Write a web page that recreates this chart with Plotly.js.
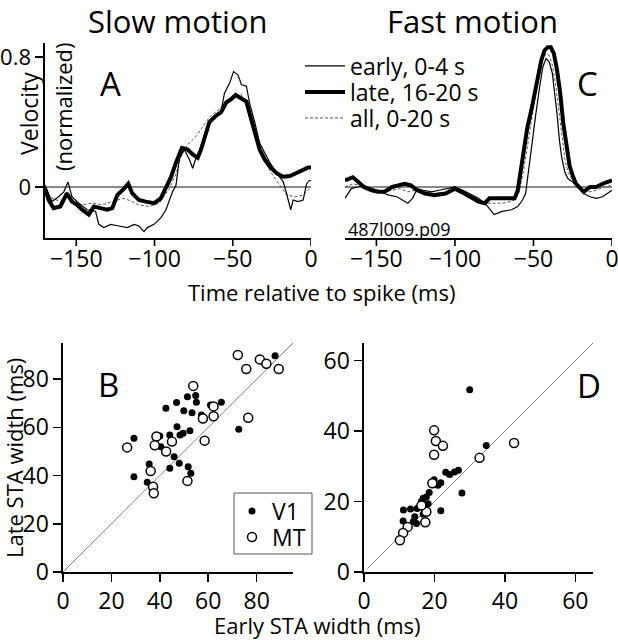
<!DOCTYPE html>
<html><head><meta charset="utf-8">
<script src="https://cdn.plot.ly/plotly-3.0.1.min.js"></script>
<style>body{margin:0;background:#fff}#g{width:618px;height:640px}</style>
</head><body><div id="g"></div>
<script>
// ---- Panel A (slow motion) ----
const slowEarlyT = [-170,-165.6,-161.3,-158,-155.3,-152.8,-148.4,-143,-137.7,-135.6,-132.4,-128,-122.8,-117.4,-113,-110,-106.7,-104.6,-100.3,-96,-92.7,-90.6,-88.5,-86.3,-84.2,-81,-77.8,-75.6,-73.5,-70.3,-68.1,-64.9,-60.6,-57.4,-55.3,-52,-49.5,-46.7,-44.5,-41.3,-39.2,-36,-32.8,-29.6,-26.3,-22,-17.8,-15.6,-13,-11.4,-8.2,-5,-2.8,-1.1,0];
const slowEarlyV = [0.01,-0.09,-0.06,-0.03,0.03,-0.06,-0.10,-0.14,-0.15,-0.23,-0.25,-0.23,-0.24,-0.25,-0.23,-0.24,-0.275,-0.25,-0.23,-0.19,-0.14,-0.08,-0.03,0.01,0.17,0.23,0.17,0.115,0.18,0.24,0.32,0.40,0.43,0.47,0.577,0.64,0.71,0.69,0.63,0.62,0.515,0.40,0.27,0.21,0.15,0.085,0.033,-0.04,-0.14,-0.08,-0.09,-0.08,0.02,0.04,0.04];
const slowLateT = [-170,-167.7,-164.5,-160.2,-156,-152.8,-149.5,-146.3,-142,-138.8,-134.5,-130.3,-127,-123.8,-119.5,-116.8,-114.2,-110,-105.6,-100.3,-96,-92.7,-89.5,-86.3,-82.5,-78.8,-75.6,-72.4,-70.3,-68.1,-64.9,-60.6,-57.4,-54.2,-51,-48.2,-44.5,-41.3,-39.2,-36,-32.8,-29.6,-26.3,-22,-17.8,-13.5,-9.2,-5,-1.7,0];
const slowLateV = [-0.01,-0.08,-0.13,-0.12,-0.04,-0.09,-0.11,-0.14,-0.17,-0.12,-0.13,-0.14,-0.13,-0.05,-0.01,0.02,-0.04,-0.08,-0.09,-0.10,-0.07,-0.01,0.06,0.15,0.24,0.23,0.20,0.18,0.23,0.30,0.40,0.44,0.46,0.52,0.54,0.566,0.54,0.525,0.45,0.34,0.23,0.17,0.125,0.085,0.063,0.067,0.085,0.105,0.12,0.12];
const slowAllT = [-170,-167.7,-160,-156,-152.8,-146,-140,-133,-127,-120,-116.8,-110,-103.5,-97,-90.5,-86.3,-83,-79,-73.5,-69.2,-64.9,-58.5,-53.2,-49,-44.5,-40.2,-36,-30.6,-26.3,-20,-15.6,-10,-5,-1,0];
const slowAllV = [-0.02,-0.06,-0.09,-0.03,-0.09,-0.11,-0.10,-0.11,-0.09,-0.07,-0.08,-0.11,-0.12,-0.10,-0.01,0.08,0.19,0.26,0.31,0.37,0.43,0.48,0.535,0.57,0.57,0.48,0.35,0.19,0.10,0.01,-0.05,-0.06,-0.05,-0.01,0.0];

// ---- Panel C (fast motion) ----
const fastEarlyT = [-170,-166,-162,-158,-153,-149,-145,-142,-137,-133,-130,-127,-124,-120,-115,-110,-105,-100,-95,-89,-85,-80,-75,-70,-64,-60,-57,-55,-53,-51,-48.5,-46,-44,-42,-40,-38,-36.5,-35,-33.5,-32,-30,-28,-25,-22,-18,-14,-10,-6,-3,0];
const fastEarlyV = [-0.07,-0.01,0.0,0.01,-0.01,-0.02,-0.04,-0.05,-0.06,-0.08,-0.10,-0.07,-0.01,-0.02,-0.03,-0.02,-0.01,0.0,-0.02,-0.05,-0.07,-0.11,-0.17,-0.15,-0.14,-0.12,-0.08,-0.04,0.12,0.25,0.45,0.62,0.74,0.79,0.77,0.70,0.58,0.45,0.29,0.18,0.09,0.05,0.03,0.0,-0.04,-0.06,-0.07,-0.06,-0.04,-0.02];
const fastLateT = [-170,-165,-162,-158,-153,-149,-145,-140,-136,-132,-128,-124,-119,-113,-106,-100,-96,-91,-85,-81,-78,-74,-70,-66,-62,-60,-57,-54,-51,-48,-45,-43,-41,-39,-37,-35,-33,-31,-29,-27,-25,-23,-20,-18,-14,-10,-6,-2,0];
const fastLateV = [0.04,0.06,0.035,0.0,-0.02,-0.03,-0.03,0.0,0.01,0.02,0.01,-0.02,-0.04,-0.05,-0.04,-0.01,-0.03,-0.06,-0.09,-0.10,-0.07,-0.07,-0.07,-0.07,-0.07,-0.02,0.19,0.36,0.49,0.63,0.78,0.84,0.86,0.86,0.82,0.72,0.58,0.39,0.26,0.13,0.07,0.02,-0.01,-0.03,0.0,0.0,0.02,0.03,0.04];
const fastAllT = [-170,-165,-160,-155,-150,-145,-140,-135,-130,-125,-120,-115,-110,-105,-100,-95,-90,-85,-80,-75,-70,-65,-62,-59,-56,-53,-50,-47,-44,-42,-40,-38,-36,-34,-32,-30,-28,-25,-22,-18,-14,-10,-5,0];
const fastAllV = [0.0,0.02,0.01,-0.01,-0.02,-0.03,-0.02,-0.01,-0.03,-0.02,-0.03,-0.04,-0.04,-0.03,-0.01,-0.03,-0.05,-0.08,-0.10,-0.10,-0.10,-0.09,-0.08,-0.03,0.12,0.30,0.50,0.68,0.79,0.82,0.81,0.75,0.64,0.47,0.30,0.17,0.09,0.04,0.0,-0.02,-0.03,-0.02,0.0,0.01];

// ---- Panel B (slow, STA widths) ----
const slowV1Early = [29.3,29.3,34.8,35.6,40.0,40.4,42.5,44.1,44.1,45.9,46.9,47.1,48.0,48.3,49.6,49.9,51.4,51.7,52.4,52.8,53.3,54.8,55.1,57.2,60.9,65.4,72.6,87.6];
const slowV1Late  = [55.5,39.5,37.2,44.8,56.4,52.0,67.9,43.0,56.8,47.8,70.3,60.3,45.1,56.8,57.6,66.9,72.7,43.7,58.6,41.0,66.1,73.2,70.4,65.1,69.3,70.4,59.2,89.7];
const slowMTEarly = [26.5,38.6,37.9,36.2,37.2,37.5,42.6,45.0,51.4,53.8,57.8,58.5,62.2,62.2,72.2,75.7,76.5,81.3,84.0,89.1];
const slowMTLate  = [51.7,56.2,52.6,41.9,35.4,32.7,50.0,54.1,37.8,77.2,63.7,54.5,68.7,64.6,90.0,84.2,64.0,88.2,86.4,84.2];

// ---- Panel D (fast, STA widths) ----
const fastV1Early = [30.0,34.7,27.8,21.8,26.8,25.7,24.3,23.2,21.8,21.0,19.9,19.2,18.5,17.7,16.8,16.3,15.8,15.1,13.2,11.2,11.1,14.4,14.9,16.8,18.2,14.0,17.2];
const fastV1Late  = [51.7,35.9,22.4,17.4,28.9,28.4,27.7,28.3,25.3,24.6,26.2,25.4,22.6,21.3,20.9,20.0,18.5,18.0,17.9,17.6,14.5,15.7,13.8,16.4,19.4,14.3,18.5];
const fastMTEarly = [19.9,20.4,22.4,19.9,42.6,32.8,19.4,17.4,17.7,16.3,12.4,11.1,10.2];
const fastMTLate  = [40.2,37.2,35.8,33.3,36.6,32.4,25.2,14.1,17.1,18.9,12.8,11.1,9.0];

const timeTicks = [-150,-100,-50,0];
const slowWidthTicks = [0,20,40,60,80];
const fastWidthTicks = [0,20,40,60];
const unityB = [0,95];
const unityD = [1,65];

const FONT = 'Open Sans, sans-serif';
const thin = {color:'#000', width:1.2};
const thick = {color:'#000', width:4};
const dash = {color:'#555', width:1, dash:'3px,2px'};

const traces = [
  {x:slowAllT, y:slowAllV, xaxis:'x', yaxis:'y', mode:'lines', line:dash, name:'all, 0-20 s', legend:'legend3'},
  {x:slowEarlyT, y:slowEarlyV, xaxis:'x', yaxis:'y', mode:'lines', line:thin, name:'early, 0-4 s', legend:'legend'},
  {x:slowLateT, y:slowLateV, xaxis:'x', yaxis:'y', mode:'lines', line:thick, name:'late, 16-20 s', legend:'legend2'},
  {x:fastAllT, y:fastAllV, xaxis:'x2', yaxis:'y2', mode:'lines', line:dash, showlegend:false},
  {x:fastEarlyT, y:fastEarlyV, xaxis:'x2', yaxis:'y2', mode:'lines', line:thin, showlegend:false},
  {x:fastLateT, y:fastLateV, xaxis:'x2', yaxis:'y2', mode:'lines', line:thick, showlegend:false},
  {x:unityB, y:unityB, xaxis:'x3', yaxis:'y3', mode:'lines', line:{color:'#808080', width:1}, showlegend:false},
  {x:unityD, y:unityD, xaxis:'x4', yaxis:'y4', mode:'lines', line:{color:'#808080', width:1}, showlegend:false},
  {x:slowV1Early, y:slowV1Late, xaxis:'x3', yaxis:'y3', mode:'markers', name:'V1', legend:'legend4',
   marker:{symbol:'circle', size:7, color:'#000'}},
  {x:slowMTEarly, y:slowMTLate, xaxis:'x3', yaxis:'y3', mode:'markers', name:'MT', legend:'legend5',
   marker:{symbol:'circle', size:9, color:'#fff', line:{color:'#000', width:1.5}}},
  {x:fastV1Early, y:fastV1Late, xaxis:'x4', yaxis:'y4', mode:'markers', showlegend:false,
   marker:{symbol:'circle', size:7, color:'#000'}},
  {x:fastMTEarly, y:fastMTLate, xaxis:'x4', yaxis:'y4', mode:'markers', showlegend:false,
   marker:{symbol:'circle', size:9, color:'#fff', line:{color:'#000', width:1.5}}}
];

const W = 618, H = 640;
const px = v => v / W, py = v => 1 - v / H;
const tickFont = {family:FONT, size:23, color:'#000'};
const axBase = {showline:true, linecolor:'#000', linewidth:1.6, ticks:'outside', ticklen:8, tickwidth:1.6,
  tickcolor:'#000', showgrid:false, zeroline:false, tickfont:tickFont, fixedrange:true, ticklabeloverflow:'allow'};
// time axes: labels sit close to the line; tick marks are added as shapes at the tick values
const xLab = Object.assign({}, axBase, {ticks:''});
const AX_BOTTOM = 238;
const tickShapes = [];
['x', 'x2'].forEach(ref => timeTicks.forEach(t => tickShapes.push(
  {type:'line', xref:ref, yref:'paper', x0:t, x1:t, y0:py(AX_BOTTOM), y1:py(AX_BOTTOM + 8),
   line:{color:'#000', width:1.6}})));

function leg(xp, yc, size, iw) {
  return {x:px(xp), y:py(yc), xanchor:'left', yanchor:'middle', bgcolor:'rgba(0,0,0,0)', borderwidth:0,
    font:{family:FONT, size:size, color:'#000'}, itemwidth:iw};
}

const layout = {
  width:W, height:H, margin:{l:0, r:0, t:0, b:0}, paper_bgcolor:'#fff', plot_bgcolor:'rgba(0,0,0,0)',
  font:{family:FONT, color:'#000'},
  xaxis: Object.assign({}, xLab, {domain:[px(45), px(311)], range:[-170,0], tickvals:timeTicks, anchor:'y'}),
  yaxis: Object.assign({}, axBase, {domain:[py(AX_BOTTOM), py(43)], range:[-0.314,0.886], tickvals:[0,0.8], ticktext:['0','0.8'],
    anchor:'x', zeroline:true, zerolinecolor:'#8a8a8a', zerolinewidth:1.5, tickfont:Object.assign({}, tickFont, {size:22})}),
  xaxis2: Object.assign({}, xLab, {domain:[px(345), px(612)], range:[-170,0], tickvals:timeTicks, anchor:'y2'}),
  yaxis2: {domain:[py(AX_BOTTOM), py(43)], range:[-0.314,0.886], anchor:'x2', showline:false, ticks:'', showticklabels:false,
    showgrid:false, zeroline:true, zerolinecolor:'#8a8a8a', zerolinewidth:1.5, fixedrange:true},
  xaxis3: Object.assign({}, axBase, {domain:[px(63), px(293)], range:[0,95], tickvals:slowWidthTicks, anchor:'y3'}),
  yaxis3: Object.assign({}, axBase, {domain:[py(572), py(343)], range:[0,95], tickvals:slowWidthTicks, anchor:'x3'}),
  xaxis4: Object.assign({}, axBase, {domain:[px(364), px(593)], range:[0,65], tickvals:fastWidthTicks, anchor:'y4'}),
  yaxis4: Object.assign({}, axBase, {domain:[py(572), py(343)], range:[0,65], tickvals:fastWidthTicks, anchor:'x4'}),
  showlegend:true,
  legend: leg(300, 66, 23, 40),
  legend2: leg(300, 92, 23, 40),
  legend3: leg(300, 118, 23, 40),
  legend4: leg(232, 511, 23, 30),
  legend5: leg(232, 537, 23, 30),
  shapes: [
    {type:'rect', xref:'paper', yref:'paper', x0:px(234), x1:px(312), y0:py(554), y1:py(493), line:{color:'#555', width:1}}
  ].concat(tickShapes),
  annotations:[
    {text:'Slow motion', x:px(177), y:1, yanchor:'top', yshift:2, font:{size:31}},
    {text:'Fast motion', x:px(472), y:1, yanchor:'top', yshift:2, font:{size:31}},
    {text:'A', x:px(110), y:py(84), font:{size:33}},
    {text:'C', x:px(587), y:py(84), font:{size:33}},
    {text:'B', x:px(109), y:py(384), font:{size:33}},
    {text:'D', x:px(589), y:py(385), font:{size:33}},
    {text:'Velocity', x:px(29), y:py(114), textangle:-90, font:{size:23}},
    {text:'(normalized)', x:px(63), y:py(107), textangle:-90, font:{size:22}},
    {text:'487l009.p09', x:px(399), y:py(229), font:{size:18}},
    {text:'Time relative to spike (ms)', x:px(321), y:py(292), font:{size:22}},
    {text:'Early STA width (ms)', x:px(317), y:py(625), font:{size:22}},
    {text:'Late STA width (ms)', x:0, xanchor:'left', xshift:-3, y:py(458), textangle:-90, font:{size:22}}
  ].map(a => Object.assign({xref:'paper', yref:'paper', showarrow:false, xanchor:'center', yanchor:'middle'}, a,
        {font:Object.assign({family:FONT, color:'#000'}, a.font)}))
};

Plotly.newPlot('g', traces, layout, {displayModeBar:false, staticPlot:true});
</script></body></html>
